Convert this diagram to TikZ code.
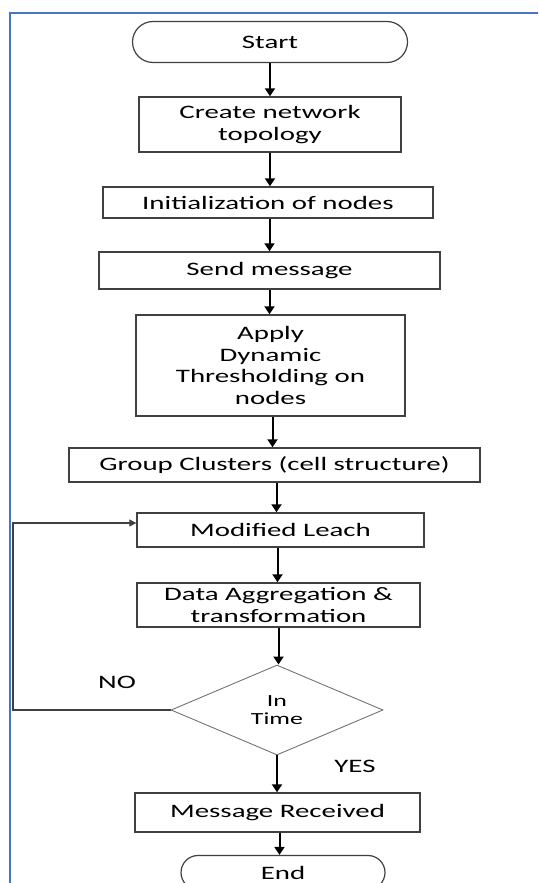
\documentclass[tikz,border=0pt]{standalone}
\usepackage{fontspec}
\setmainfont{Carlito}[FakeStretch=1.52]
\usetikzlibrary{shapes.geometric, shapes.misc, arrows.meta}

\definecolor{frameblue}{RGB}{72,118,196}

\tikzset{
  stepbox/.style={draw=black!75, line width=1.4pt, align=center, inner sep=1pt},
  term/.style={draw=black!75, line width=1.2pt, rounded rectangle, inner sep=1pt},
  test/.style={draw=black!55, line width=0.9pt, diamond, align=center, inner sep=0pt},
  flow/.style={line width=2pt, -{Triangle[length=8pt, width=10pt]}},
  loopback/.style={line width=1.2pt, draw=black!75, -{Triangle[length=7pt, width=7pt]}}
}

\begin{document}
\begin{tikzpicture}[x=1pt, y=-1pt, font=\fontsize{19}{21.5}\selectfont]
  \clip (0, 0) rectangle (538, 883);

  % page frame
  \draw[frameblue, line width=2pt] (10, 890) |- (545, 13);

  % terminals
  \node[term, minimum width=277, minimum height=41] (start) at (270, 42) {Start};
  \node[term, minimum width=206, minimum height=34] (stop) at (283, 872.5) {End};

  % process steps
  \node[stepbox, minimum width=262, minimum height=55] (topo) at (270, 124.5)
    {Create network\\topology};
  \node[stepbox, minimum width=330, minimum height=31] (init) at (268, 202.5)
    {Initialization of nodes};
  \node[stepbox, minimum width=341, minimum height=37] (send) at (269.5, 270.5)
    {Send message};
  \node[stepbox, minimum width=269, minimum height=101] (thresh) at (270.5, 365.5)
    {Apply\\Dynamic\\Thresholding on\\nodes};
  \node[stepbox, minimum width=411, minimum height=34] (group) at (274.5, 465)
    {Group Clusters (cell structure)};
  \node[stepbox, minimum width=287, minimum height=34] (leach) at (280.5, 530)
    {Modified Leach};
  \node[stepbox, minimum width=283, minimum height=44] (aggr) at (278.5, 605)
    {Data Aggregation \&\\transformation};
  \node[stepbox, minimum width=285, minimum height=39] (recv) at (277.5, 812.5)
    {Message Received};

  % decision
  \node[test, minimum width=212, minimum height=90, font=\fontsize{17}{18}\selectfont]
    (check) at (277, 710) {In\\Time};
  \node (no) at (117, 682) {NO};
  \node (yes) at (355, 766) {YES};

  % main flow
  \draw[flow] (start.south) -- (start.south |- topo.north);
  \draw[flow] (topo.south) -- (topo.south |- init.north);
  \draw[flow] (init.south -| send) -- (send.north);
  \draw[flow] (send.south) -- (send.south |- thresh.north);
  \draw[flow] ([xshift=2pt]thresh.south) -- ([xshift=2pt]thresh.south |- group.north);
  \draw[flow] ([xshift=2pt]group.south) -- ([xshift=2pt]group.south |- leach.north);
  \draw[flow] ([xshift=-3pt]leach.south) -- ([xshift=-3pt]leach.south |- aggr.north);
  \draw[flow] (aggr.south) -- (aggr.south |- check.north);
  \draw[flow] (check.south) -- (check.south |- recv.north);
  \draw[flow] ([xshift=2pt]recv.south) -- ([xshift=2pt]recv.south |- stop.north);

  % back to leach
  \coordinate (side) at (13, 0);
  \draw[loopback] (check.west) -- (check.west -| side) |- ([yshift=7pt]leach.west);
\end{tikzpicture}
\end{document}
